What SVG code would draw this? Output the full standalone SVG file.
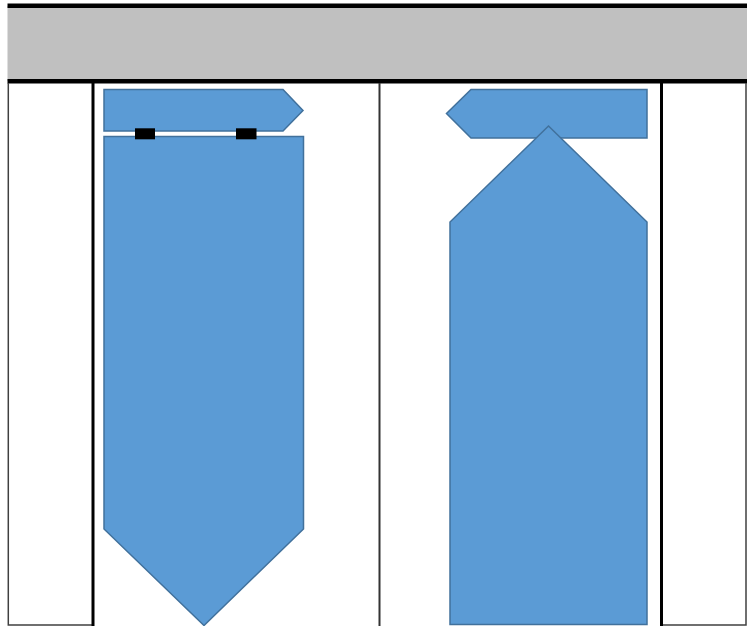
<svg xmlns="http://www.w3.org/2000/svg" width="747" height="626" viewBox="0 0 747 626">
<style>
.shape{fill:#5B9BD5;stroke:#41719C;stroke-width:1.5;stroke-linejoin:miter}
.thin{fill:none;stroke:#404040;stroke-width:1.5}
</style>
<rect width="747" height="626" fill="#ffffff"/>
<g id="header">
<rect x="7.5" y="6" width="739.5" height="75" fill="#C0C0C0"/>
<rect x="7.5" y="3.5" width="739.5" height="4.5" fill="#000"/>
<rect x="7.5" y="79" width="739.5" height="4.5" fill="#000"/>
</g>
<g id="frame">
<path class="thin" d="M8.3,83 V625 H93"/>
<path class="thin" d="M662,625 H746 V83"/>
<line x1="93" y1="83" x2="93" y2="626" stroke="#000" stroke-width="3"/>
<line x1="661.5" y1="83" x2="661.5" y2="626" stroke="#000" stroke-width="3"/>
<line x1="379.5" y1="83" x2="379.5" y2="626" stroke="#333" stroke-width="2"/>
</g>
<g id="left-top">
<polygon class="shape" points="104,89.5 283,89.5 303,110.5 283,131 104,131"/>
</g>
<g id="left-body">
<polygon class="shape" points="104,136.5 303.5,136.5 303.5,529 204,625.5 104,529"/>
</g>
<g id="clips">
<rect x="135" y="128.3" width="20" height="11" fill="#000"/>
<rect x="236" y="128.3" width="20.5" height="11" fill="#000"/>
</g>
<g id="right-top">
<polygon class="shape" points="471,89.5 647,89.5 647,138 471,138 446.5,113.5"/>
</g>
<g id="right-body">
<polygon class="shape" points="548.5,126 647,222 647,624.5 450,624.5 450,222"/>
</g>
</svg>
